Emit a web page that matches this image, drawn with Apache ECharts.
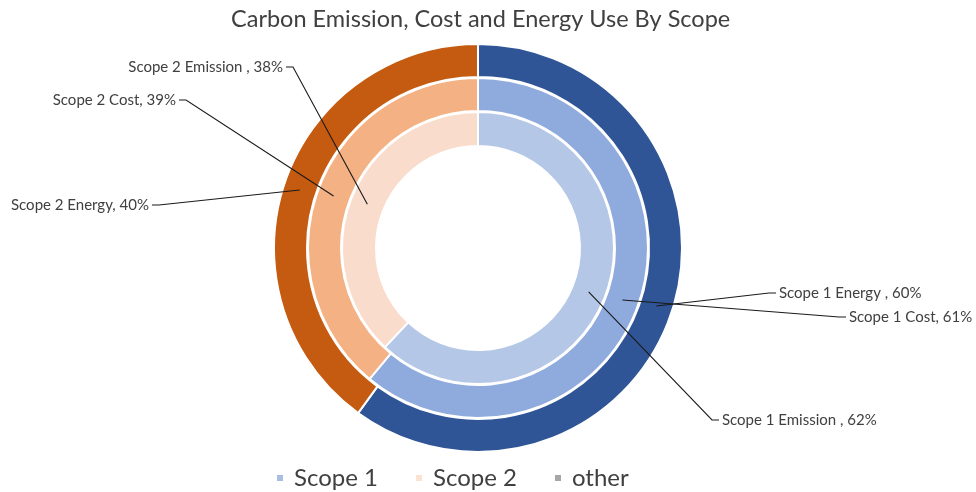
<!DOCTYPE html>
<html><head><meta charset="utf-8">
<script src="https://cdn.jsdelivr.net/npm/echarts@6/dist/echarts.min.js"></script>
<style>html,body{margin:0;padding:0;background:#fff}#c{width:976px;height:492px}</style>
</head><body><div id="c"></div>
<script>
const categories = ['Scope 1', 'Scope 2', 'other'];
const emissionValues = [62, 38, 0];
const costValues = [61, 39, 0];
const energyValues = [60, 40, 0];
const emissionLabelNames = ['Scope 1 Emission ', 'Scope 2 Emission '];
const costLabelNames = ['Scope 1 Cost', 'Scope 2 Cost'];
const energyLabelNames = ['Scope 1 Energy ', 'Scope 2 Energy'];

const FONT = 'Lato, "DejaVu Sans", sans-serif';
const CX = 478, CY = 248;
const chart = echarts.init(document.getElementById('c'));

// label placement: [x, y, align]
const labelPlace = {
  emission: [[722, 420, 'left'], [283, 67, 'right']],
  cost: [[849, 317, 'left'], [176, 100, 'right']],
  energy: [[779, 293, 'left'], [149, 205, 'right']]
};

const RADII = { emission: [102, 136], cost: [137, 170], energy: [171, 204] };

function ringVisual(key, values, colors) {
  return {
    type: 'pie', name: key, center: [CX, CY], radius: RADII[key], z: 2,
    startAngle: 90, clockwise: true, silent: true,
    itemStyle: { borderColor: '#ffffff', borderWidth: 2 },
    label: { show: false }, labelLine: { show: false },
    data: values.map(function (v, i) {
      return { name: categories[i], value: v, itemStyle: { color: colors[i] } };
    })
  };
}

function ringLabels(key, values, names) {
  const radius = RADII[key];
  const midR = (radius[0] + radius[1]) / 2;
  return {
    type: 'pie', name: key + '-labels', center: [CX, CY], radius: radius, z: 10,
    startAngle: 90, clockwise: true, silent: true, legendHoverLink: false,
    avoidLabelOverlap: false,
    itemStyle: { color: 'rgba(0,0,0,0)', borderWidth: 0 },
    label: {
      show: true, position: 'outside', color: '#404040', fontFamily: FONT, fontSize: 15,
      formatter: function (p) { return names[p.dataIndex] + ', ' + p.value + '%'; }
    },
    labelLine: { show: true, length: 10, length2: 10, lineStyle: { color: '#1a1a1a', width: 1.1 } },
    labelLayout: function (p) {
      const pl = labelPlace[key][p.dataIndex];
      if (!pl || !p.labelLinePoints) return {};
      const p0 = p.labelLinePoints[0];
      const dx = p0[0] - CX, dy = p0[1] - CY;
      const d = Math.sqrt(dx * dx + dy * dy) || 1;
      const start = [CX + dx / d * midR, CY + dy / d * midR];
      const s = pl[2] === 'right' ? 1 : -1;
      return {
        x: pl[0], y: pl[1], align: pl[2], verticalAlign: 'middle',
        labelLinePoints: [start, [pl[0] + s * 10, pl[1]], [pl[0] + s * 3, pl[1]]]
      };
    },
    data: values.map(function (v, i) {
      const item = { name: categories[i], value: v };
      if (i === 2) { item.label = { show: false }; item.labelLine = { show: false }; }
      return item;
    })
  };
}

chart.setOption({
  animation: false,
  backgroundColor: '#ffffff',
  title: {
    text: 'Carbon Emission, Cost and Energy Use By Scope',
    left: 226, top: 2,
    textStyle: { fontFamily: FONT, fontSize: 23.5, fontWeight: 'normal', color: '#404040' }
  },
  legend: {
    left: 270, top: 461, icon: 'rect', itemWidth: 8, itemHeight: 8, itemGap: 36,
    selectedMode: false,
    textStyle: { fontFamily: FONT, fontSize: 24, color: '#404040', padding: [0, 0, 0, 5] },
    data: [
      { name: 'Scope 1', itemStyle: { color: '#a9bfe2' } },
      { name: 'Scope 2', itemStyle: { color: '#fbe2d2' } },
      { name: 'other', itemStyle: { color: '#a6a6a6' } }
    ]
  },
  series: [
    ringVisual('emission', emissionValues, ['#b4c7e7', '#f9dccb', '#a6a6a6']),
    ringVisual('cost', costValues, ['#8faadc', '#f4b183', '#a6a6a6']),
    ringVisual('energy', energyValues, ['#2f5597', '#c55a11', '#a6a6a6']),
    ringLabels('emission', emissionValues, emissionLabelNames),
    ringLabels('cost', costValues, costLabelNames),
    ringLabels('energy', energyValues, energyLabelNames)
  ]
});
</script></body></html>
